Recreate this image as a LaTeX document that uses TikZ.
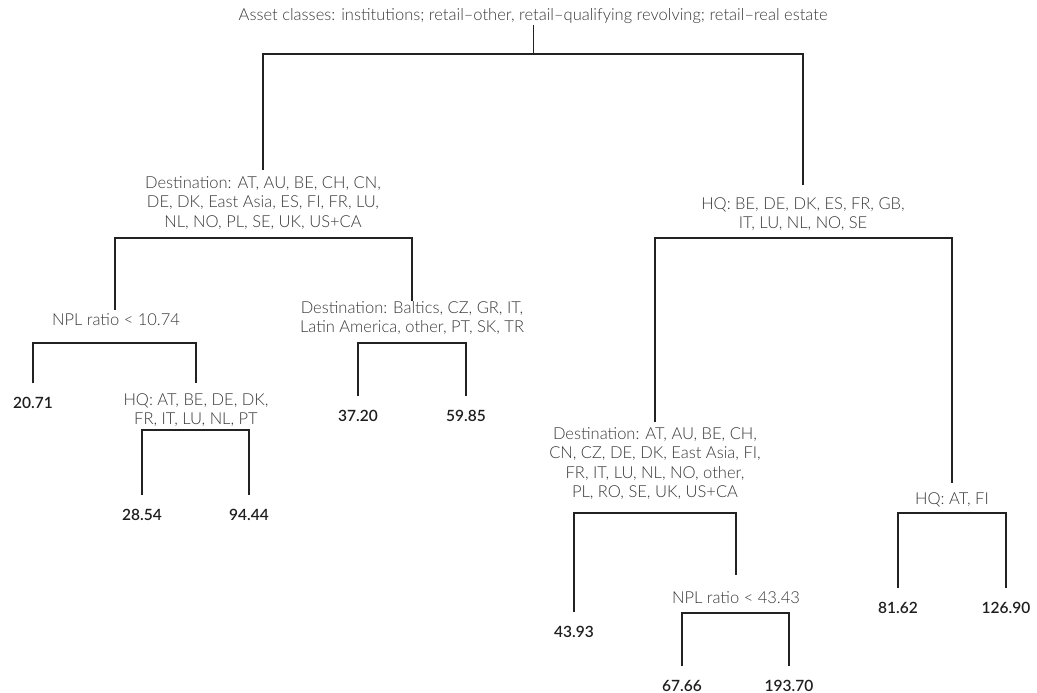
\documentclass[tikz,border=0pt]{standalone}
\usepackage{fontspec}
\setmainfont{Lato}[UprightFont={* Light}, BoldFont={* Semibold}]
\definecolor{labelgray}{HTML}{383838}
\definecolor{leafblack}{HTML}{1E1E1E}
\definecolor{linegray}{HTML}{222222}
\begin{document}
\begin{tikzpicture}[x=1pt, y=-1pt,
        split/.style={align=center, inner sep=1pt, text=labelgray, font=\fontsize{16.5}{19.5}\selectfont},
        leaf/.style={inner sep=1pt, outer ysep=13pt, text=leafblack, font=\fontsize{15.5}{18}\selectfont\bfseries},
        branch/.style={draw=linegray, line width=2.5pt},
        stem/.style={draw=linegray, line width=0.9pt}]
        \useasboundingbox (0,0) rectangle (1037,693);
        % ---- root ----
        \node[split] (root) at (533,16) {Asset classes: institutions; retail--other, retail--qualifying revolving; retail--real estate};
        \coordinate (root-b) at (533,54);
        % ---- splits ----
        \node[split] (dest1) at (263,203) {Destination: AT, AU, BE, CH, CN,\\DE, DK, East Asia, ES, FI, FR, LU,\\NL, NO, PL, SE, UK, US+CA};
        \node[split] (hq1) at (803,214) {HQ: BE, DE, DK, ES, FR, GB,\\IT, LU, NL, NO, SE};
        \node[split] (npl1) at (116,320) {NPL ratio < 10.74};
        \node[split] (balt) at (412,318) {Destination: Baltics, CZ, GR, IT,\\Latin America, other, PT, SK, TR};
        \node[split] (hq2) at (196,410) {HQ: AT, BE, DE, DK,\\FR, IT, LU, NL, PT};
        \node[split] (dest2) at (655,463.5) {Destination: AT, AU, BE, CH,\\CN, CZ, DE, DK, East Asia, FI,\\FR, IT, LU, NL, NO, other,\\PL, RO, SE, UK, US+CA};
        \node[split] (npl2) at (736,598) {NPL ratio < 43.43};
        \node[split] (hq3) at (952,500) {HQ: AT, FI};
        % ---- where the branches meet the splits ----
        \coordinate (dest1-t) at (263,170);
        \coordinate (hq1-t) at (803,185);
        \coordinate (npl1-t) at (115,310);
        \coordinate (balt-t) at (412,301);
        \coordinate (hq2-t) at (196,383);
        \coordinate (dest2-t) at (655,422);
        \coordinate (npl2-t) at (736,575);
        \coordinate (hq3-t) at (952,483);
        % ---- bars ----
        \coordinate (dest1-b) at (263,238);
        \coordinate (hq1-b) at (803,238);
        \coordinate (npl1-b) at (115,343);
        \coordinate (balt-b) at (412,343);
        \coordinate (hq2-b) at (196,430);
        \coordinate (dest2-b) at (655,513);
        \coordinate (npl2-b) at (736,613);
        \coordinate (hq3-b) at (952,513);
        % ---- leaves ----
        \node[leaf] (v2071) at (33,403) {20.71};
        \node[leaf] (v2854) at (142,515) {28.54};
        \node[leaf] (v9444) at (249,515) {94.44};
        \node[leaf] (v3720) at (358,416) {37.20};
        \node[leaf] (v5985) at (466,416) {59.85};
        \node[leaf] (v4393) at (574,632) {43.93};
        \node[leaf] (v6766) at (682,686) {67.66};
        \node[leaf] (v19370) at (789,686) {193.70};
        \node[leaf] (v8162) at (898,608) {81.62};
        \node[leaf] (v12690) at (1006,608) {126.90};
        % ---- branches ----
        \draw[stem] (root) -- (root-b);
        \draw[branch] (dest1-t) |- (root-b) -| (hq1-t);
        \draw[branch] (npl1-t) |- (dest1-b) -| (balt-t);
        \draw[branch] (v2071.north) |- (npl1-b) -| (hq2-t);
        \draw[branch] (v2854.north) |- (hq2-b) -| (v9444.north);
        \draw[branch] (v3720.north) |- (balt-b) -| (v5985.north);
        \draw[branch] (dest2-t) |- (hq1-b) -| (hq3-t);
        \draw[branch] (v4393.north) |- (dest2-b) -| (npl2-t);
        \draw[branch] (v6766.north) |- (npl2-b) -| (v19370.north);
        \draw[branch] (v8162.north) |- (hq3-b) -| (v12690.north);
\end{tikzpicture}
\end{document}
